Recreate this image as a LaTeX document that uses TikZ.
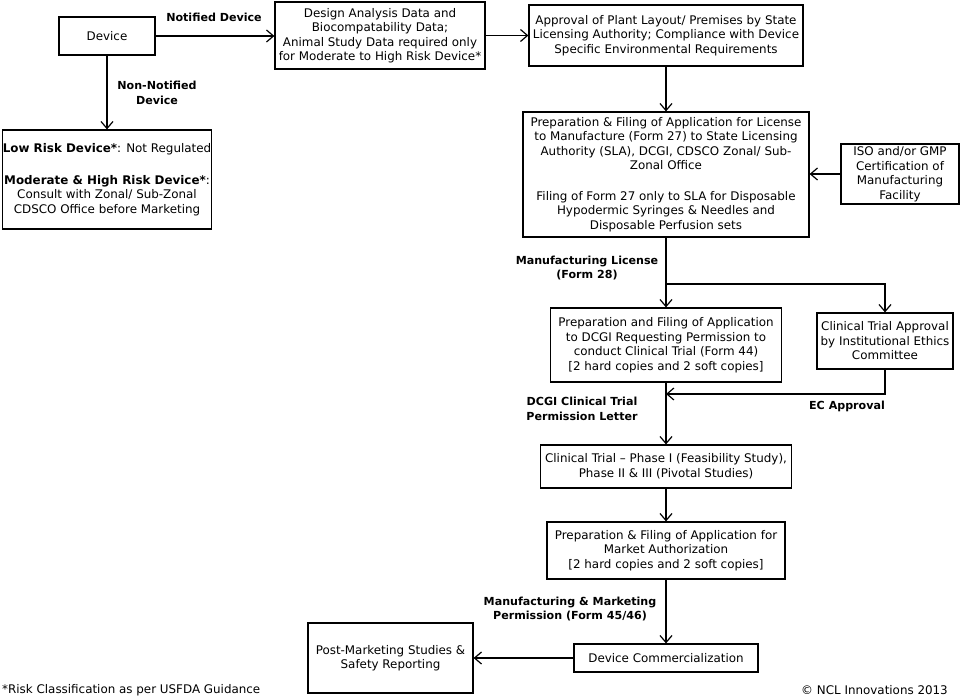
\documentclass[tikz,border=0pt]{standalone}
\usepackage{fontspec}
\setmainfont{DejaVu Sans}
\usetikzlibrary{arrows.meta}
\begin{document}
\begin{tikzpicture}[x=1pt,y=-1pt,
  every node/.style={font=\fontsize{11.9}{14.5}\selectfont},
  box/.style={draw, line width=1.2pt, inner sep=0pt, align=center},
  lbl/.style={font=\fontsize{11.1}{14.5}\selectfont\bfseries, align=center, inner sep=0pt},
  conn/.style={line width=1.2pt},
  arr/.style={conn, -{Straight Barb[length=7pt,width=12pt,line width=1.2pt]}}]
\fill[white] (0,0) rectangle (960,698);
\useasboundingbox (0,0) rectangle (960,698);

\node[box, minimum width=96pt, minimum height=38pt] (device) at (107,36) {Device};
\node[box, minimum width=210pt, minimum height=67pt] (design) at (380,35.5)
  {Design Analysis Data and\\Biocompatability Data;\\Animal Study Data required only\\for Moderate to High Risk Device*};
\node[box, minimum width=206pt, minimum height=99pt] (low) at (107,179.5)
  {\textbf{Low Risk Device*}: Not Regulated\\[17pt]\textbf{Moderate \& High Risk Device*}:\\Consult with Zonal/ Sub-Zonal\\CDSCO Office before Marketing};
\node[box, minimum width=274pt, minimum height=61pt] (approval) at (666,35.5)
  {Approval of Plant Layout/ Premises by State\\Licensing Authority; Compliance with Device\\Specific Environmental Requirements};
\node[box, minimum width=286pt, minimum height=125pt] (license) at (666,174.5)
  {Preparation \& Filing of Application for License\\to Manufacture (Form 27) to State Licensing\\Authority (SLA), DCGI, CDSCO Zonal/ Sub-\\Zonal Office\\[16pt]Filing of Form 27 only to SLA for Disposable\\Hypodermic Syringes \& Needles and\\Disposable Perfusion sets};
\node[box, minimum width=118pt, minimum height=60pt] (iso) at (900,174)
  {ISO and/or GMP\\Certification of\\Manufacturing\\Facility};
\node[box, minimum width=231pt, minimum height=74pt] (prep) at (666,345)
  {Preparation and Filing of Application\\to DCGI Requesting Permission to\\conduct Clinical Trial (Form 44)\\{[2 hard copies and 2 soft copies]}};
\node[box, minimum width=136pt, minimum height=56pt] (ethics) at (885,341)
  {Clinical Trial Approval\\by Institutional Ethics\\Committee};
\node[box, minimum width=251pt, minimum height=43pt] (trial) at (666,466.5)
  {Clinical Trial -- Phase I (Feasibility Study),\\Phase II \& III (Pivotal Studies)};
\node[box, minimum width=238pt, minimum height=57pt] (market) at (666,550.5)
  {Preparation \& Filing of Application for\\Market Authorization\\{[2 hard copies and 2 soft copies]}};
\node[box, minimum width=184pt, minimum height=28pt] (comm) at (666,658)
  {Device Commercialization};
\node[box, minimum width=165pt, minimum height=70pt] (post) at (390.5,658)
  {Post-Marketing Studies \&\\Safety Reporting};

\node[lbl] (lnot) at (214,17) {Notified Device};
\node[lbl] (lnon) at (157,93) {Non-Notified\\Device};
\node[lbl] (lml) at (587,268) {Manufacturing License\\(Form 28)};
\node[lbl] (ldcgi) at (582,409) {DCGI Clinical Trial\\Permission Letter};
\node[lbl] (lec) at (847,406) {EC Approval};
\node[lbl] (lmm) at (570,609) {Manufacturing \& Marketing\\Permission (Form 45/46)};
\node[anchor=west, inner sep=0pt] (fl) at (2,690) {*Risk Classification as per USFDA Guidance};
\node[anchor=east, inner sep=0pt] (fr) at (948,690) {\char"00A9\ NCL Innovations 2013};

\coordinate (br) at (666,284);
\coordinate (ecj) at (666,394);

\draw[arr] (device.east) -- (design.west |- device.east);
\draw[arr] (design.east) -- (approval.west);
\draw[arr] (device.south) -- (low.north);
\draw[arr] (approval.south) -- (license.north);
\draw[arr] (iso.west) -- (license.east |- iso.west);
\draw[arr] (license.south) -- (prep.north);
\draw[arr] (br) -| (ethics.north);
\draw[arr] (ethics.south) |- (ecj);
\draw[arr] (prep.south) -- (trial.north);
\draw[arr] (trial.south) -- (market.north);
\draw[arr] (market.south) -- (comm.north);
\draw[arr] (comm.west) -- (post.east);
\end{tikzpicture}
\end{document}
